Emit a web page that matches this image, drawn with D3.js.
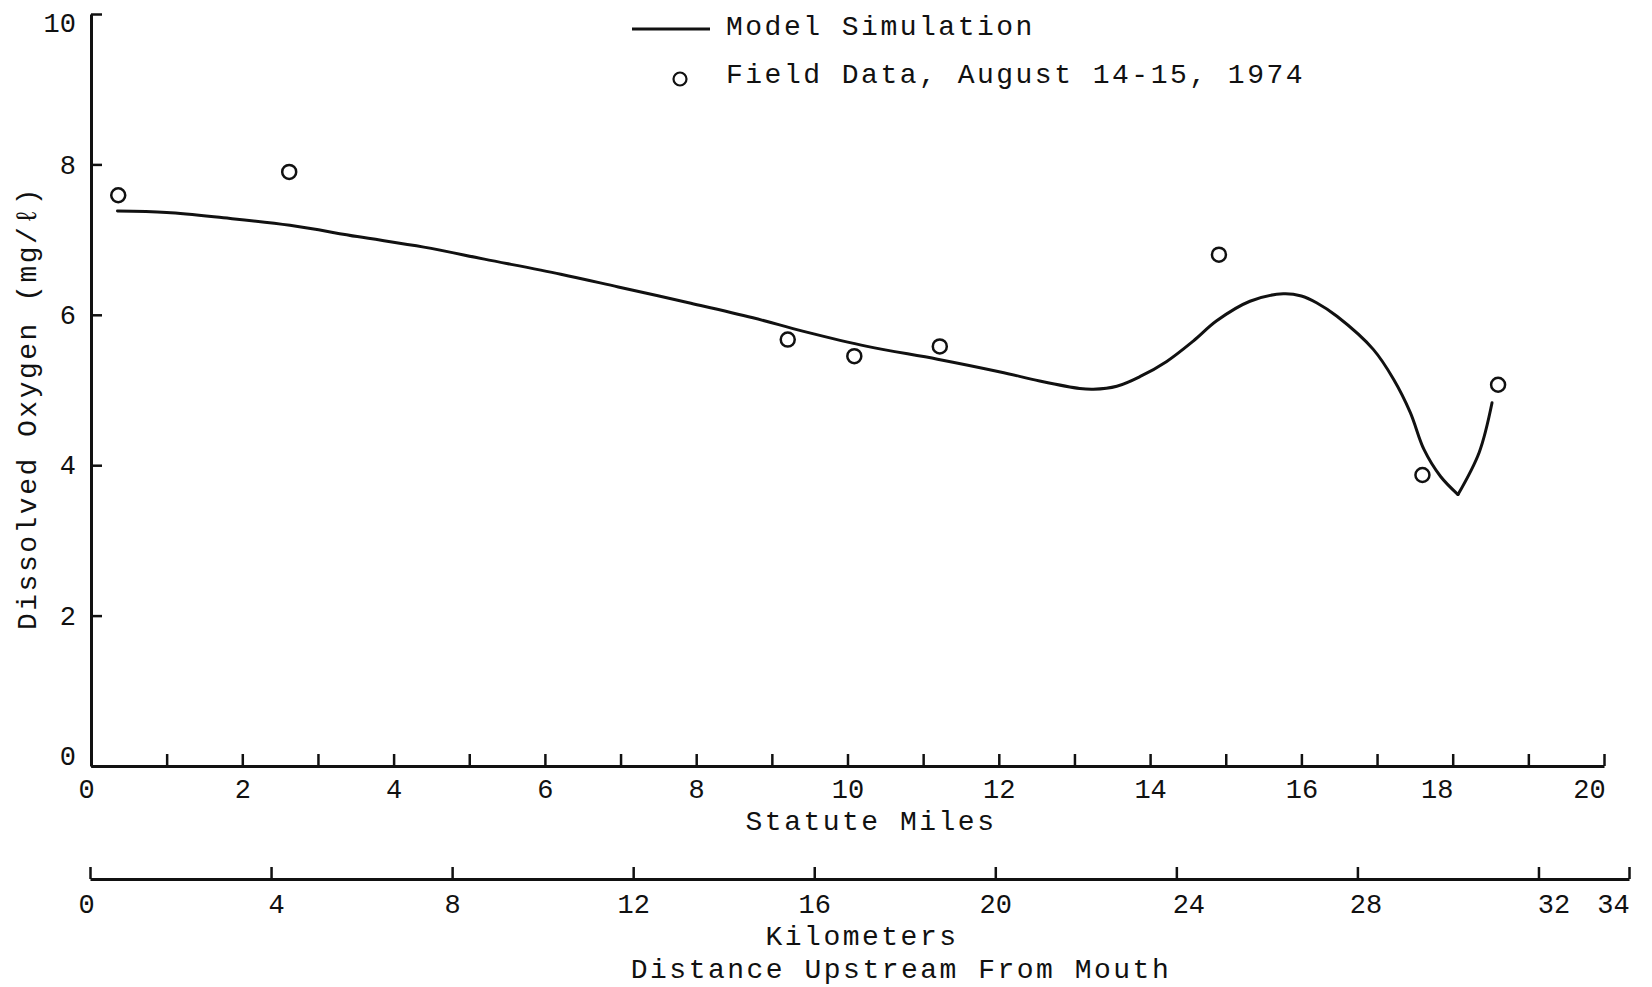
<!DOCTYPE html>
<html>
<head>
<meta charset="utf-8">
<script src="https://cdn.jsdelivr.net/npm/d3@7"></script>
<style>
  body { margin: 0; background: #fff; }
  svg { display: block; }
  text { font-family: "Liberation Mono", "Courier New", monospace; fill: #111; }
</style>
</head>
<body>
<div id="chart"></div>
<script>
// Field measurements (statute miles upstream, DO in mg/l)
const fieldMiles = [0.36, 2.62, 9.21, 10.09, 11.22, 14.91, 17.60, 18.60];
const fieldDO    = [7.59, 7.90, 5.67, 5.45, 5.58, 6.80, 3.87, 5.07];

// Model simulation curve
const modelMiles = [0.35, 1.0, 1.75, 2.63, 3.52, 4.4, 5.2, 6.21, 6.97, 7.9, 8.75, 9.42, 10.26, 11.19, 12.02, 12.54, 13.07, 13.25, 13.56, 13.87, 14.22, 14.57, 14.88, 15.32, 15.76, 16.0, 16.2, 16.47, 16.95, 17.22, 17.44, 17.62, 17.84, 18.07, 18.35, 18.52];
const modelDO    = [7.38, 7.36, 7.29, 7.19, 7.04, 6.90, 6.74, 6.54, 6.37, 6.16, 5.96, 5.78, 5.58, 5.41, 5.24, 5.12, 5.02, 5.01, 5.05, 5.18, 5.38, 5.65, 5.92, 6.18, 6.28, 6.25, 6.16, 5.98, 5.54, 5.14, 4.70, 4.21, 3.85, 3.61, 4.17, 4.83];
// the curve has a sharp corner here
const modelCorner = 18.07;

const mileTicks = d3.range(0, 21, 1);
const kmTicks = [0, 4, 8, 12, 16, 20, 24, 28, 32, 34];
const doTicks = [0, 2, 4, 6, 8, 10];

// small hand offsets of some tick labels in the original drawing
const mileLabelShift = { 0: -5, 18: -16, 20: -15 };
const kmLabelShift = { 0: -4, 4: 5, 24: 12, 28: 8, 32: 15, 34: -16 };

const width = 1652, height = 987;

const svg = d3.select("#chart").append("svg")
    .attr("width", width)
    .attr("height", height);

svg.append("rect").attr("width", width).attr("height", height).attr("fill", "#fff");

const x = d3.scaleLinear().domain([0, 20]).range([91, 1604]);
const y = d3.scaleLinear().domain([0, 10]).range([766, 14]);
const km = d3.scaleLinear().domain([0, 34]).range([90, 1629]);

function styleAxis(g) {
    g.select(".domain").attr("stroke", "#111").attr("stroke-width", 3);
    g.selectAll(".tick line").attr("stroke", "#111").attr("stroke-width", 2.5);
    g.selectAll(".tick text")
        .attr("font-family", '"Liberation Mono", monospace')
        .attr("font-size", 27)
        .attr("fill", "#111");
}

// y axis
svg.append("g")
    .attr("transform", `translate(${x(0)},0)`)
    .call(d3.axisLeft(y).tickValues(doTicks).tickSize(-11).tickSizeOuter(0).tickPadding(15))
    .call(styleAxis)
    .call(g => g.selectAll(".tick text")
        .attr("dy", d => d === 0 ? "-0.05em" : d === 10 ? "0.65em" : "0.32em"));

// statute miles axis
svg.append("g")
    .attr("transform", `translate(0,${y(0)})`)
    .call(d3.axisBottom(x).tickValues(mileTicks).tickSize(-12).tickSizeOuter(0).tickPadding(13)
        .tickFormat(d => d % 2 === 0 ? d : ""))
    .call(styleAxis)
    .call(g => g.selectAll(".tick text").attr("dx", d => mileLabelShift[d] || 0));

// kilometer axis
svg.append("g")
    .attr("transform", "translate(0,879)")
    .call(d3.axisBottom(km).tickValues(kmTicks).tickSize(-12).tickSizeOuter(0).tickPadding(15))
    .call(styleAxis)
    .call(g => g.selectAll(".tick text").attr("dx", d => kmLabelShift[d] || 0));

// axis titles
svg.append("text")
    .attr("x", 871).attr("y", 830)
    .attr("text-anchor", "middle")
    .attr("font-size", 28).attr("letter-spacing", 2.5)
    .text("Statute Miles");

svg.append("text")
    .attr("x", 862).attr("y", 945)
    .attr("text-anchor", "middle")
    .attr("font-size", 28).attr("letter-spacing", 2.5)
    .text("Kilometers");

svg.append("text")
    .attr("x", 901).attr("y", 978)
    .attr("text-anchor", "middle")
    .attr("font-size", 28).attr("letter-spacing", 2.5)
    .text("Distance Upstream From Mouth");

svg.append("text")
    .attr("transform", "translate(36,408) rotate(-90)")
    .attr("text-anchor", "middle")
    .attr("font-size", 28).attr("letter-spacing", 2.5)
    .text("Dissolved Oxygen (mg/ℓ)");

// model curve, drawn in two pieces so the corner stays sharp
const model = modelMiles.map((m, i) => ({ m, v: modelDO[i] }));
const line = d3.line().x(d => x(d.m)).y(d => y(d.v)).curve(d3.curveCatmullRom.alpha(0.5));
const parts = [model.filter(d => d.m <= modelCorner), model.filter(d => d.m >= modelCorner)];

svg.selectAll("path.model")
    .data(parts)
    .enter()
    .append("path")
    .attr("class", "model")
    .attr("d", line)
    .attr("fill", "none")
    .attr("stroke", "#111")
    .attr("stroke-width", 3)
    .attr("stroke-linejoin", "round")
    .attr("stroke-linecap", "round");

// field data circles
svg.selectAll("circle.field")
    .data(fieldMiles.map((m, i) => ({ m, v: fieldDO[i] })))
    .enter()
    .append("circle")
    .attr("class", "field")
    .attr("cx", d => x(d.m))
    .attr("cy", d => y(d.v))
    .attr("r", 7)
    .attr("fill", "none")
    .attr("stroke", "#111")
    .attr("stroke-width", 2.5);

// legend
const legend = svg.append("g");
legend.append("line")
    .attr("x1", 632).attr("x2", 710)
    .attr("y1", 29).attr("y2", 29)
    .attr("stroke", "#111").attr("stroke-width", 3);
legend.append("text")
    .attr("x", 726).attr("y", 35)
    .attr("font-size", 28).attr("letter-spacing", 2.5)
    .text("Model Simulation");
legend.append("circle")
    .attr("cx", 680).attr("cy", 79).attr("r", 6.5)
    .attr("fill", "none").attr("stroke", "#111").attr("stroke-width", 2.2);
legend.append("text")
    .attr("x", 726).attr("y", 83)
    .attr("font-size", 28).attr("letter-spacing", 2.5)
    .text("Field Data, August 14-15, 1974");
</script>
</body>
</html>
